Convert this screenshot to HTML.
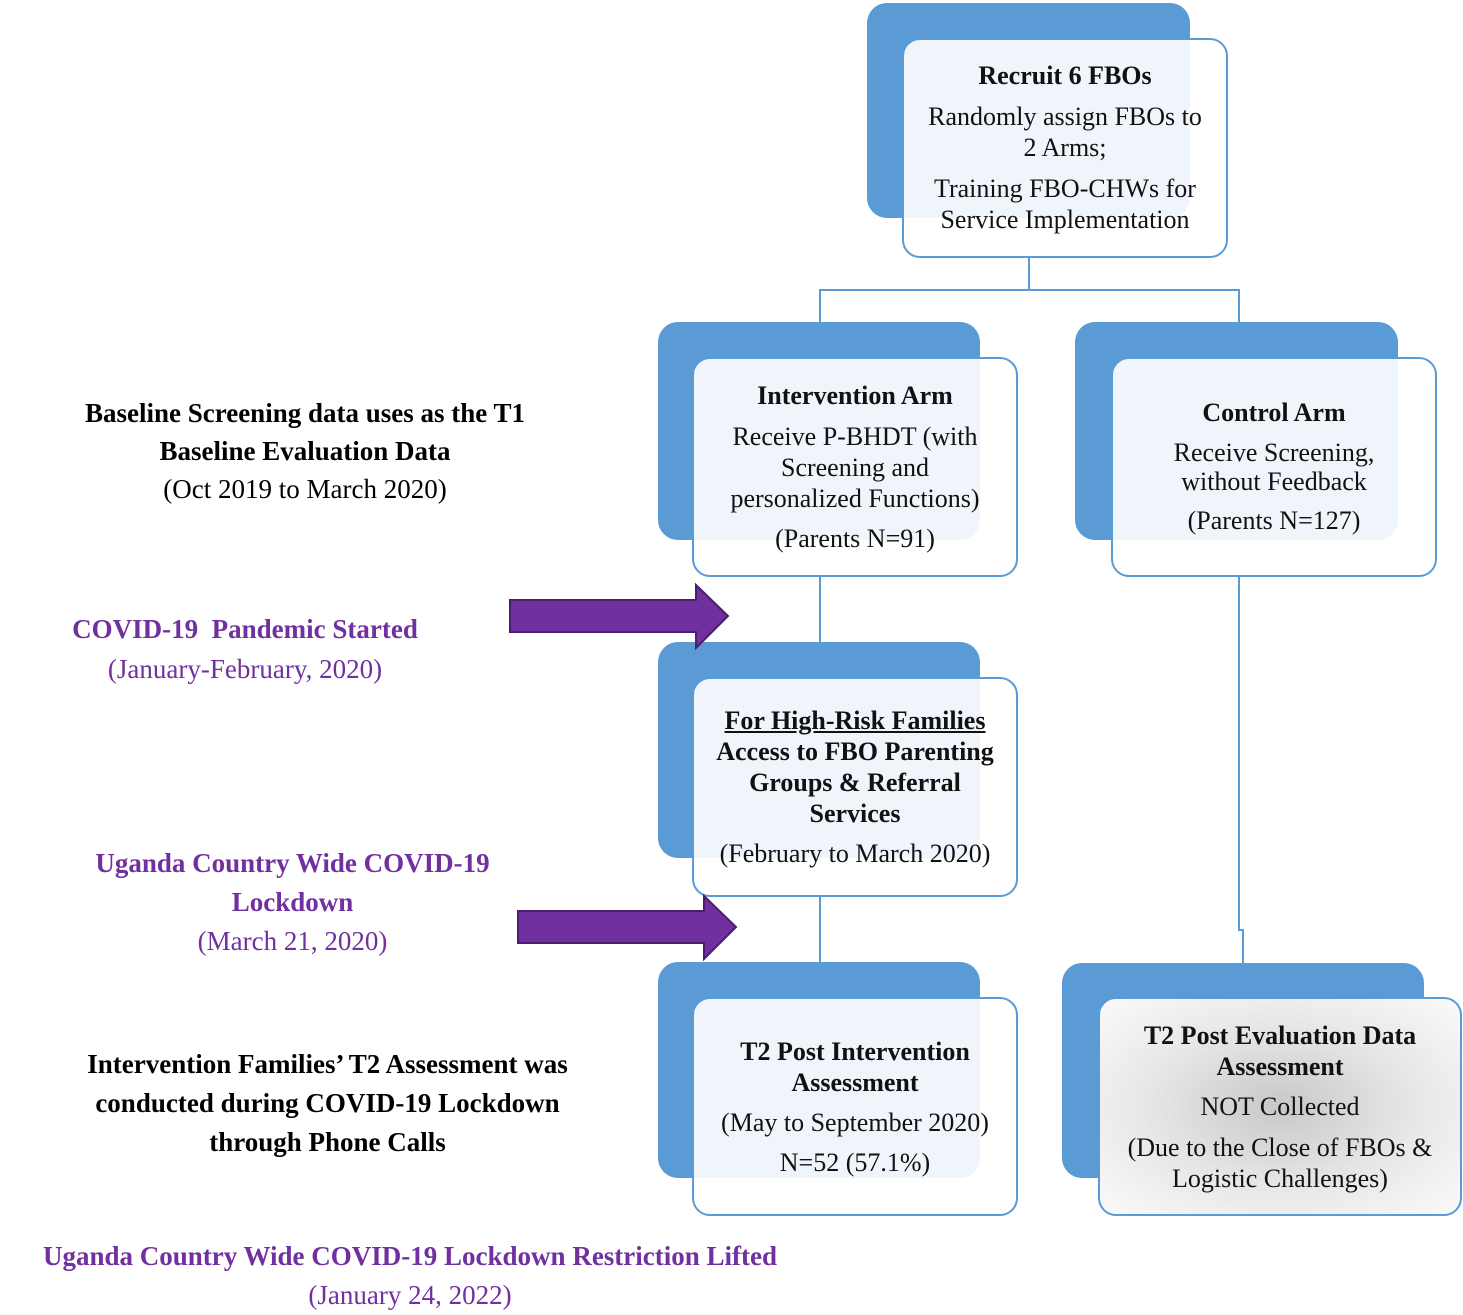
<!DOCTYPE html>
<html><head><style>
body{margin:0;width:1463px;height:1312px;background:#fff;position:relative;font-family:"Liberation Serif",serif;overflow:hidden}
.a{position:absolute}
.back{position:absolute;background:#5b9bd5;border-radius:20px}
.front{position:absolute;background:rgba(255,255,255,0.9);border:2px solid #5b9bd5;border-radius:18px;box-sizing:border-box;display:flex;flex-direction:column;justify-content:center;align-items:center;text-align:center;font-size:26px;line-height:30px;color:#111}
.front p{margin:5px 0}
b{font-weight:bold}
.ln{position:absolute;background:#5b9bd5}
.lbl{position:absolute;text-align:center;font-size:27px;line-height:38px}
.pur{color:#7030a0}
</style></head><body>
<div class="back" style="left:867px;top:3px;width:323px;height:215px"></div>
<div class="front" style="left:902px;top:38px;width:326px;height:220px"><p><b>Recruit 6 FBOs</b></p><p style="line-height:31px">Randomly assign FBOs to<br>2 Arms;</p><p style="line-height:31px">Training FBO-CHWs for<br>Service Implementation</p></div>

<div class="ln" style="left:1028px;top:258px;width:2px;height:33px"></div>
<div class="ln" style="left:819px;top:289px;width:421px;height:2px"></div>
<div class="ln" style="left:819px;top:289px;width:2px;height:33px"></div>
<div class="ln" style="left:1238px;top:289px;width:2px;height:33px"></div>
<div class="ln" style="left:819px;top:577px;width:2px;height:65px"></div>
<div class="ln" style="left:819px;top:897px;width:2px;height:65px"></div>
<div class="ln" style="left:1238px;top:577px;width:2px;height:353px"></div>
<div class="ln" style="left:1238px;top:929px;width:6px;height:2px"></div>
<div class="ln" style="left:1242px;top:929px;width:2px;height:34px"></div>

<div class="back" style="left:658px;top:322px;width:322px;height:218px"></div>
<div class="front" style="left:692px;top:357px;width:326px;height:220px"><p><b>Intervention Arm</b></p><p style="line-height:31px">Receive P-BHDT (with<br>Screening and<br>personalized Functions)</p><p>(Parents N=91)</p></div>

<div class="back" style="left:1075px;top:322px;width:323px;height:218px"></div>
<div class="front" style="left:1111px;top:357px;width:326px;height:220px"><p><b>Control Arm</b></p><p style="line-height:29px">Receive Screening,<br>without Feedback</p><p>(Parents N=127)</p></div>

<div class="back" style="left:658px;top:642px;width:322px;height:216px"></div>
<div class="front" style="left:692px;top:677px;width:326px;height:220px"><p style="line-height:31px"><b><u>For High-Risk Families</u><br>Access to FBO Parenting<br>Groups &amp; Referral<br>Services</b></p><p>(February to March 2020)</p></div>

<div class="back" style="left:658px;top:962px;width:322px;height:216px"></div>
<div class="front" style="left:692px;top:997px;width:326px;height:219px"><p style="line-height:31px"><b>T2 Post Intervention<br>Assessment</b></p><p>(May to September 2020)</p><p>N=52 (57.1%)</p></div>

<div class="back" style="left:1062px;top:963px;width:362px;height:215px"></div>
<div class="front" style="left:1098px;top:997px;width:364px;height:219px;background:radial-gradient(ellipse at 50% 50%,#c8c8c8 0%,#e8e8e8 55%,#fafafa 100%)"><p style="line-height:31px"><b>T2 Post Evaluation Data<br>Assessment</b></p><p>NOT Collected</p><p style="line-height:31px">(Due to the Close of FBOs &amp;<br>Logistic Challenges)</p></div>

<div class="lbl" style="left:40px;top:394px;width:530px"><b>Baseline Screening data uses as the T1<br>Baseline Evaluation Data</b><br>(Oct 2019 to March 2020)</div>
<div class="lbl pur" style="left:20px;top:609px;width:450px;line-height:40px"><b>COVID-19&nbsp; Pandemic Started</b><br>(January-February, 2020)</div>
<div class="lbl pur" style="left:40px;top:844px;width:505px;line-height:39px"><b>Uganda Country Wide COVID-19<br>Lockdown</b><br>(March 21, 2020)</div>
<div class="lbl" style="left:40px;top:1045px;width:575px;line-height:39px"><b>Intervention Families’ T2 Assessment was<br>conducted during COVID-19 Lockdown<br>through Phone Calls</b></div>
<div class="lbl pur" style="left:0px;top:1237px;width:820px;line-height:39px"><b>Uganda Country Wide COVID-19 Lockdown Restriction Lifted</b><br>(January 24, 2022)</div>

<svg class="a" style="left:0;top:0" width="1463" height="1312">
<polygon points="510,600 696,600 696,585 728,616 696,648 696,632 510,632" fill="#7030a0" stroke="#4b1d70" stroke-width="2"/>
<polygon points="518,911 704,911 704,896 736,927 704,959 704,943 518,943" fill="#7030a0" stroke="#4b1d70" stroke-width="2"/>
</svg>
</body></html>
